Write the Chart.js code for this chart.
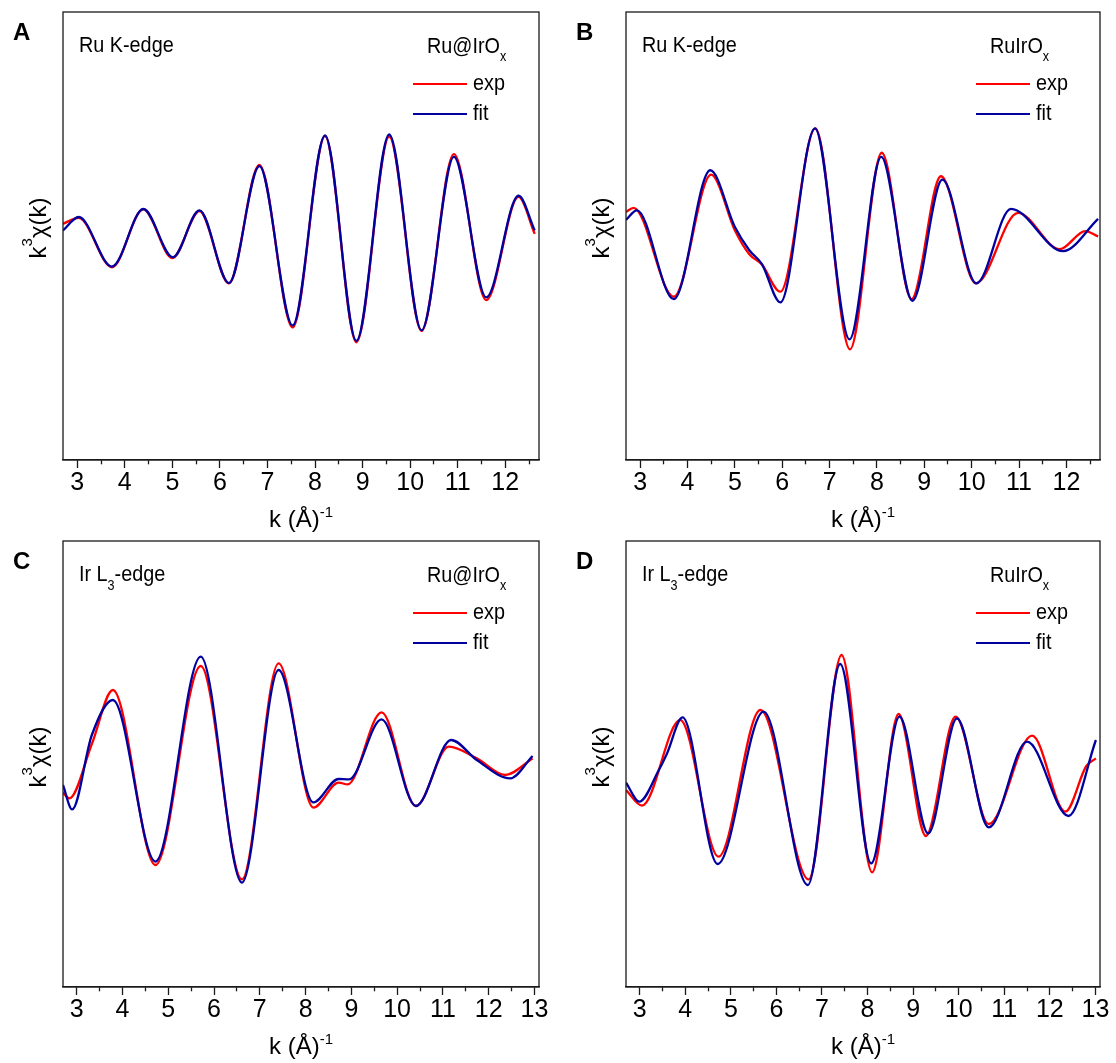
<!DOCTYPE html>
<html>
<head>
<meta charset="utf-8">
<script src="https://cdn.jsdelivr.net/npm/chart.js@4.4.0/dist/chart.umd.min.js"></script>
<style>
  html, body { margin: 0; padding: 0; background: #fff; }
  #fig { position: relative; width: 1116px; height: 1063px; overflow: hidden; }
  #fig canvas { position: absolute; }
</style>
</head>
<body>
<div id="fig">
  <canvas id="chartA" style="left:0;top:0"></canvas>
  <canvas id="chartB" style="left:558px;top:0"></canvas>
  <canvas id="chartC" style="left:0;top:531px"></canvas>
  <canvas id="chartD" style="left:558px;top:531px"></canvas>
</div>
<script>
var FONT = "'Liberation Sans', Arial, Helvetica, sans-serif";
var RED  = '#ff0000';
var BLUE = '#0000a0';
var INK  = '#1a1a1a';

// tick labels
var ticksAB = [3, 4, 5, 6, 7, 8, 9, 10, 11, 12];
var ticksCD = [3, 4, 5, 6, 7, 8, 9, 10, 11, 12, 13];

// A: Ru K-edge, Ru@IrOx
var aExpK = [2.7, 3.03, 3.73, 4.39, 5.0, 5.57, 6.19, 6.83, 7.53, 8.21, 8.87, 9.56, 10.24, 10.92, 11.6, 12.28, 12.62];
var aExpY = [0.63, 0.93, -1.53, 1.35, -1.07, 1.27, -2.33, 3.57, -4.53, 5.0, -5.27, 4.97, -4.7, 4.1, -3.17, 1.97, 0.13];
var aFitK = [2.7, 3.03, 3.73, 4.39, 5.01, 5.57, 6.19, 6.83, 7.53, 8.21, 8.87, 9.56, 10.24, 10.92, 11.6, 12.28, 12.62];
var aFitY = [0.3, 0.97, -1.5, 1.37, -1.03, 1.3, -2.32, 3.5, -4.43, 5.03, -5.2, 5.08, -4.67, 3.97, -3.03, 2.03, 0.3];

// B: Ru K-edge, RuIrOx
var bExpK = [2.7, 2.86, 3.71, 4.5, 5.0, 5.3, 5.57, 5.96, 6.7, 7.43, 8.1, 8.73, 9.35, 10.09, 10.98, 11.86, 12.4, 12.67];
var bExpY = [1.22, 1.43, -3.0, 3.08, 0.3, -0.87, -1.4, -2.75, 5.38, -5.62, 4.17, -3.12, 3.0, -2.33, 1.18, -0.63, 0.27, 0.0];
var bFitK = [2.7, 2.93, 3.71, 4.48, 5.0, 5.3, 5.57, 5.96, 6.69, 7.42, 8.09, 8.75, 9.38, 10.1, 10.83, 11.93, 12.67];
var bFitY = [0.83, 1.3, -3.12, 3.3, 0.47, -0.67, -1.37, -3.28, 5.38, -5.12, 3.97, -3.2, 2.83, -2.33, 1.38, -0.73, 0.88];

// C: Ir L3-edge, Ru@IrOx
var cExpK = [2.7, 2.84, 3.33, 3.79, 4.72, 5.71, 6.61, 7.41, 8.17, 8.72, 8.92, 9.66, 10.41, 11.13, 11.74, 12.36, 12.96];
var cExpY = [-1.43, -1.72, 1.0, 3.7, -5.05, 4.9, -5.77, 5.03, -2.18, -0.93, -1.02, 2.58, -2.1, 0.87, 0.28, -0.55, 0.28];
var cFitK = [2.7, 2.9, 3.33, 3.79, 4.72, 5.71, 6.61, 7.41, 8.17, 8.72, 8.95, 9.66, 10.41, 11.18, 11.74, 12.47, 12.96];
var cFitY = [-1.05, -2.27, 1.45, 3.2, -4.88, 5.37, -5.93, 4.7, -1.92, -0.75, -0.77, 2.23, -2.1, 1.2, 0.2, -0.72, 0.4];

// D: Ir L3-edge, RuIrOx
var dExpK = [2.7, 3.05, 3.89, 4.73, 5.65, 6.71, 7.43, 8.1, 8.68, 9.28, 9.93, 10.66, 11.61, 12.34, 12.8, 13.01];
var dExpY = [-1.3, -2.08, 2.2, -4.63, 2.7, -5.77, 5.45, -5.42, 2.5, -3.6, 2.37, -3.0, 1.42, -2.38, -0.1, 0.28];
var dFitK = [2.7, 2.99, 3.42, 3.6, 3.94, 4.71, 5.72, 6.69, 7.4, 8.08, 8.7, 9.33, 9.96, 10.66, 11.5, 12.41, 13.01];
var dFitY = [-0.93, -1.88, -0.3, 0.53, 2.33, -5.0, 2.62, -6.05, 5.0, -4.97, 2.37, -3.47, 2.28, -3.17, 1.12, -2.6, 1.2];

function pts(ks, ys) {
    return ks.map(function (k, i) { return { x: k, y: ys[i] }; });
}

// draws a run of [text, size, dy] pieces, returns the width used
function drawRich(ctx, x, y, segs, measureOnly) {
    var w = 0;
    segs.forEach(function (s) {
        ctx.font = s[1] + 'px ' + FONT;
        if (!measureOnly) ctx.fillText(s[0], x + w, y + (s[2] || 0));
        w += ctx.measureText(s[0]).width;
    });
    return w;
}

function narrow(ctx, x, y, segs) {
    ctx.save();
    ctx.translate(x, y);
    ctx.scale(0.9, 1);
    drawRich(ctx, 0, 0, segs);
    ctx.restore();
}

var panelText = {
    id: 'panelText',
    afterDraw: function (chart, args, o) {
        var ctx = chart.ctx, a = chart.chartArea;
        ctx.save();

        ctx.strokeStyle = INK;
        ctx.lineWidth = 1.3;
        ctx.strokeRect(a.left, a.top, a.right - a.left, a.bottom - a.top);

        ctx.fillStyle = '#000';
        ctx.textBaseline = 'alphabetic';
        ctx.textAlign = 'left';

        ctx.font = 'bold 24px ' + FONT;
        ctx.fillText(o.letter, a.left - 50, a.top + 28);

        narrow(ctx, a.left + 16, a.top + 40, o.edge);
        narrow(ctx, a.left + 364, a.top + 41, o.sample);

        // legend from the datasets
        chart.data.datasets.forEach(function (ds, i) {
            var y = a.top + 72 + 30 * i;
            ctx.strokeStyle = ds.borderColor;
            ctx.lineWidth = 2.2;
            ctx.beginPath();
            ctx.moveTo(a.left + 350, y);
            ctx.lineTo(a.left + 404, y);
            ctx.stroke();
            narrow(ctx, a.left + 410, y + 6, [[ds.label, 22]]);
        });

        // x title
        var xt = [['k (\u00C5)', 24, 0], ['-1', 15, -10]];
        var w = drawRich(ctx, 0, 0, xt, true);
        drawRich(ctx, (a.left + a.right) / 2 - w / 2, a.bottom + 67, xt);

        // y title, rotated
        var yt = [['k', 24, 0], ['3', 15, -14], ['\u03C7(k)', 24, 0]];
        var wy = drawRich(ctx, 0, 0, yt, true);
        ctx.translate(a.left - 17, a.top + 216);
        ctx.rotate(-Math.PI / 2);
        drawRich(ctx, -wy / 2, 0, yt);

        ctx.restore();
    }
};

function makePanel(id, p) {
    var cv = document.getElementById(id);
    cv.width = p.w;
    cv.height = p.h;
    return new Chart(cv, {
        type: 'line',
        data: {
            datasets: [
                {
                    label: 'exp',
                    data: pts(p.expK, p.expY),
                    borderColor: RED,
                    borderWidth: 2.3,
                    pointRadius: 0,
                    cubicInterpolationMode: 'monotone',
                    order: 1,
                },
                {
                    label: 'fit',
                    data: pts(p.fitK, p.fitY),
                    borderColor: BLUE,
                    borderWidth: 2.3,
                    pointRadius: 0,
                    cubicInterpolationMode: 'monotone',
                    order: 0,
                },
            ],
        },
        options: {
            responsive: false,
            animation: false,
            devicePixelRatio: 1,
            layout: { padding: { left: p.padL, right: p.padR, top: p.padT, bottom: 0 } },
            plugins: {
                legend: { display: false },
                tooltip: { enabled: false },
                panelText: { letter: p.letter, edge: p.edge, sample: p.sample },
            },
            scales: {
                x: {
                    type: 'linear',
                    min: 2.7,
                    max: p.xMax,
                    afterFit: function (s) { s.height = p.xH; },
                    border: { display: true, color: INK, width: 1.3 },
                    grid: {
                        drawOnChartArea: false,
                        drawTicks: true,
                        tickLength: 8,
                        tickWidth: 1.3,
                        tickColor: INK,
                        tickBorderDash: function (c) {
                            var v = c.tick ? c.tick.value : 0;
                            return Math.abs(v - Math.round(v)) < 1e-6 ? [] : [4, 30];
                        },
                    },
                    ticks: {
                        stepSize: 0.5,
                        includeBounds: false,
                        autoSkip: false,
                        maxRotation: 0,
                        padding: 0,
                        color: '#000',
                        font: { size: 25, family: FONT },
                        callback: function (v) {
                            return p.ticks.indexOf(v) >= 0 ? String(v) : '';
                        },
                    },
                },
                y: { display: false, min: p.yMin, max: p.yMax },
            },
        },
        plugins: [panelText],
    });
}

var edgeRu = [['Ru K-edge', 22]];
var edgeIr = [['Ir L', 22], ['3', 14, 9], ['-edge', 22]];
var sampleAt = [['Ru@IrO', 22], ['x', 14, 8]];
var samplePlain = [['RuIrO', 22], ['x', 14, 8]];

makePanel('chartA', {
    letter: 'A', edge: edgeRu, sample: sampleAt,
    expK: aExpK, expY: aExpY, fitK: aFitK, fitY: aFitY,
    w: 558, h: 536, padL: 63, padR: 19, padT: 12, xH: 76,
    xMax: 12.71, ticks: ticksAB, yMin: -11.13, yMax: 11.18,
});
makePanel('chartB', {
    letter: 'B', edge: edgeRu, sample: samplePlain,
    expK: bExpK, expY: bExpY, fitK: bFitK, fitY: bFitY,
    w: 558, h: 536, padL: 68, padR: 16, padT: 12, xH: 76,
    xMax: 12.71, ticks: ticksAB, yMin: -11.13, yMax: 11.18,
});
makePanel('chartC', {
    letter: 'C', edge: edgeIr, sample: sampleAt,
    expK: cExpK, expY: cExpY, fitK: cFitK, fitY: cFitY,
    w: 558, h: 532, padL: 63, padR: 19, padT: 10, xH: 76,
    xMax: 13.1, ticks: ticksCD, yMin: -11.15, yMax: 11.15,
});
makePanel('chartD', {
    letter: 'D', edge: edgeIr, sample: samplePlain,
    expK: dExpK, expY: dExpY, fitK: dFitK, fitY: dFitY,
    w: 558, h: 532, padL: 68, padR: 16, padT: 10, xH: 76,
    xMax: 13.1, ticks: ticksCD, yMin: -11.15, yMax: 11.15,
});
</script>
</body>
</html>
